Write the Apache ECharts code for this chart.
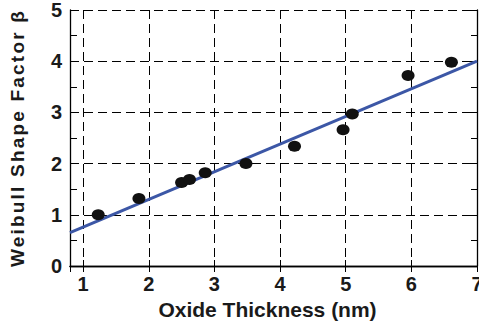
<!DOCTYPE html>
<html>
<head>
<meta charset="utf-8">
<script src="https://cdn.jsdelivr.net/npm/echarts@6/dist/echarts.min.js"></script>
<style>
html,body{margin:0;padding:0;background:#fff;}
#chart{width:479px;height:325px;}
</style>
</head>
<body>
<div id="chart"></div>
<script>
// Data
const thickness = [1.23, 1.85, 2.50, 2.62, 2.86, 3.48, 4.22, 4.96, 5.10, 5.95, 6.61];
const beta      = [1.00, 1.32, 1.63, 1.69, 1.82, 2.00, 2.34, 2.66, 2.97, 3.72, 3.98];
const fitX = [0.8, 7.0];
const fitY = [0.65, 4.00];
const xTicks = [1, 2, 3, 4, 5, 6, 7];
const yTicks = [0, 1, 2, 3, 4, 5];

const points = thickness.map((x, i) => [x, beta[i]]);
const fitLine = fitX.map((x, i) => [x, fitY[i]]);

const FONT = 'Liberation Sans';
const ink = '#1a1a1a';

const chart = echarts.init(document.getElementById('chart'), null, {renderer: 'svg'});
const grid = {left: 70, right: 2, top: 10, bottom: 59, containLabel: false, outerBoundsMode: 'none'};

const xLabelFmt = v => (xTicks.indexOf(Math.round(v * 1000) / 1000) >= 0 ? String(v) : '');
const yLabelFmt = v => (yTicks.indexOf(v) >= 0 ? String(v) : '');

chart.setOption({
  animation: false,
  backgroundColor: '#fff',
  grid: grid,
  xAxis: [{
    type: 'value', min: 0.8, max: 7, minInterval: 1, maxInterval: 1,
    position: 'bottom',
    name: 'Oxide Thickness (nm)', nameLocation: 'middle', nameGap: 33,
    nameTextStyle: {fontFamily: FONT, fontWeight: 'bold', fontSize: 21, color: ink, padding: [0, 12, 0, 0]},
    axisLine: {show: true, lineStyle: {color: '#000', width: 1.3}},
    axisTick: {show: true, inside: true, length: 6, lineStyle: {color: '#000'}},
    axisLabel: {formatter: xLabelFmt, fontFamily: FONT, fontWeight: 'bold', fontSize: 20, color: ink, margin: 8, hideOverlap: false},
    splitLine: {show: true, lineStyle: {type: [9, 5], color: '#000', width: 1}}
  }, {
    type: 'value', min: 0.8, max: 7, minInterval: 1, maxInterval: 1,
    position: 'top',
    axisLine: {show: true, lineStyle: {color: '#000', width: 1.3}},
    axisTick: {show: true, inside: true, length: 6, lineStyle: {color: '#000'}},
    axisLabel: {show: false},
    splitLine: {show: false}
  }],
  yAxis: [{
    type: 'value', min: 0, max: 5, interval: 1,
    position: 'left',
    name: 'Weibull Shape Factor β', nameLocation: 'middle', nameGap: 43,
    nameTextStyle: {fontFamily: FONT, fontWeight: 'bold', fontSize: 19, color: ink},
    axisLine: {show: true, lineStyle: {color: '#000', width: 1.3}},
    axisTick: {show: true, inside: true, length: 7, lineStyle: {color: '#000'}},
    minorTick: {show: true, splitNumber: 2, length: 7, lineStyle: {color: '#000'}},
    axisLabel: {formatter: yLabelFmt, fontFamily: FONT, fontWeight: 'bold', fontSize: 20, color: ink, margin: 8},
    splitLine: {show: true, lineStyle: {type: [9, 5], color: '#000', width: 1}}
  }, {
    type: 'value', min: 0, max: 5, interval: 1,
    position: 'right',
    axisLine: {show: true, lineStyle: {color: '#000', width: 1.3}},
    axisTick: {show: true, inside: true, length: 6, lineStyle: {color: '#000'}},
    minorTick: {show: true, splitNumber: 2, length: 6, lineStyle: {color: '#000'}},
    axisLabel: {show: false},
    splitLine: {show: false}
  }],
  series: [{
    type: 'line',
    data: fitLine,
    showSymbol: false,
    symbol: 'none',
    lineStyle: {color: '#3c57a6', width: 3},
    z: 2
  }, {
    type: 'scatter',
    data: points,
    symbol: 'circle',
    symbolSize: [13, 11],
    itemStyle: {color: '#111', opacity: 1},
    z: 3
  }]
});

// widen tracking of the vertical title like the reference
document.querySelectorAll('#chart text').forEach(t => {
  if (t.textContent.indexOf('Weibull') >= 0) {
    t.setAttribute('letter-spacing', '2.2px');
  }
});
</script>
</body>
</html>
